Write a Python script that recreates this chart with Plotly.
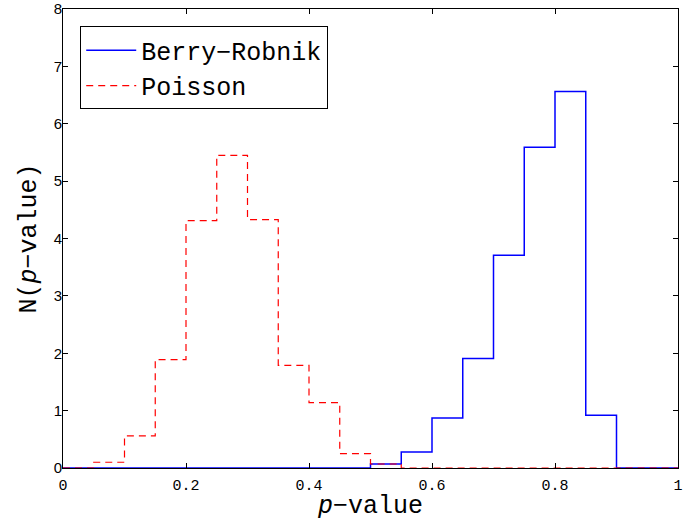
import plotly.graph_objects as go

bin_edges = [0.0, 0.05, 0.1, 0.15, 0.2, 0.25, 0.3, 0.35, 0.4, 0.45, 0.5,
             0.55, 0.6, 0.65, 0.7, 0.75, 0.8, 0.85, 0.9, 0.95, 1.0]
berry_robnik = [0, 0, 0, 0, 0, 0, 0, 0, 0, 0,
                0.07, 0.28, 0.87, 1.91, 3.71, 5.59, 6.56, 0.92, 0, 0]
poisson = [0, 0.1, 0.56, 1.89, 4.31, 5.45, 4.33, 1.79, 1.14, 0.25,
           0.07, 0, 0, 0, 0, 0, 0, 0, 0, 0]

x_ticks = [0, 0.2, 0.4, 0.6, 0.8, 1]
x_tick_labels = ["0", "0.2", "0.4", "0.6", "0.8", "1"]
y_ticks = [0, 1, 2, 3, 4, 5, 6, 7, 8]

fig = go.Figure()
fig.add_trace(go.Scatter(
    x=bin_edges, y=berry_robnik + [berry_robnik[-1]],
    mode="lines", line=dict(shape="hv", color="#0000ff", width=1.5),
    name="Berry\u2212Robnik"))
fig.add_trace(go.Scatter(
    x=bin_edges, y=poisson + [poisson[-1]],
    mode="lines", line=dict(shape="hv", color="#ff0000", width=1.2, dash="7px,5px"),
    name="Poisson"))

axis_common = dict(showgrid=False, zeroline=False, showline=True, linecolor="black",
                   linewidth=1, mirror="ticks", ticks="inside", ticklen=5,
                   tickcolor="black", automargin=False, ticklabeloverflow="allow")

fig.update_layout(
    width=693, height=521,
    margin=dict(l=63, r=15, t=9, b=53),
    paper_bgcolor="white", plot_bgcolor="white",
    xaxis=dict(range=[0, 1], tickvals=x_ticks, ticktext=x_tick_labels,
               ticklabelstandoff=3,
               tickfont=dict(family="Liberation Mono", size=15, color="black"),
               title=dict(text="<i>p</i>\u2212value", standoff=2,
                          font=dict(family="Liberation Mono", size=25, color="black")),
               **axis_common),
    yaxis=dict(range=[0, 8], tickvals=y_ticks,
               ticklabelstandoff=-3,
               tickfont=dict(family="Liberation Sans", size=15, color="black"),
               title=dict(text="N(<i>p</i>\u2212value)", standoff=9,
                          font=dict(family="Liberation Mono", size=25, color="black")),
               **axis_common),
    legend=dict(x=0.028, y=0.962, xanchor="left", yanchor="top",
                bgcolor="white", bordercolor="black", borderwidth=1,
                font=dict(family="Liberation Mono", size=25, color="black"),
                itemwidth=50, tracegroupgap=2),
    showlegend=True,
)

fig.write_html("out.html", config={"displayModeBar": False},
               post_script="document.body.style.margin='0';")
